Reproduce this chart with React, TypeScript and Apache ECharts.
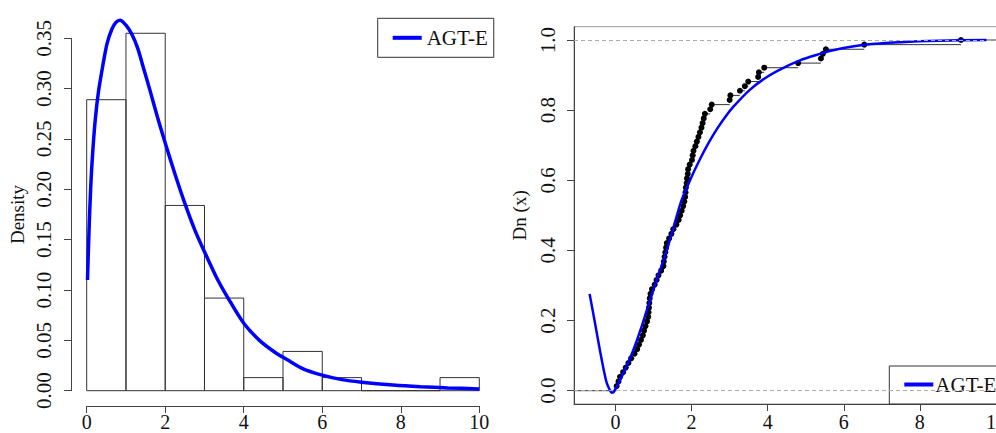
import React, { useEffect, useRef } from "react";
import * as echarts from "echarts";

// ---------- Left panel: histogram + fitted density ----------
const binEdges = [0, 1, 2, 3, 4, 5, 6, 7, 8, 9, 10];
const binDensity = [0.289, 0.355, 0.184, 0.092, 0.013, 0.039, 0.013, 0, 0, 0.013];
const densityX = [0.02, 0.06, 0.1, 0.15, 0.22, 0.3, 0.42, 0.52, 0.64, 0.75, 0.85, 1.0, 1.15, 1.3, 1.45, 1.6, 1.8, 2.0, 2.25, 2.5, 2.75, 3.0, 3.3, 3.6, 4.0, 4.4, 4.8, 5.1, 5.5, 5.95, 6.5, 7.0, 7.8, 8.5, 9.2, 10.0];
const densityY = [0.11, 0.16, 0.2, 0.235, 0.27, 0.297, 0.325, 0.345, 0.359, 0.366, 0.368, 0.363, 0.354, 0.34, 0.32, 0.3, 0.272, 0.246, 0.215, 0.186, 0.16, 0.138, 0.113, 0.092, 0.067, 0.05, 0.038, 0.031, 0.022, 0.016, 0.011, 0.0085, 0.0057, 0.004, 0.0028, 0.0018];
const leftXTicks = [0, 2, 4, 6, 8, 10];

// ---------- Right panel: empirical CDF + fitted CDF ----------
const sampleSorted = [
  0.03, 0.08, 0.12, 0.2, 0.27, 0.34, 0.41, 0.5, 0.57, 0.62,
  0.67, 0.72, 0.75, 0.79, 0.83, 0.86, 0.87, 0.88, 0.89, 0.9,
  0.92, 0.96, 1.03, 1.08, 1.13, 1.2, 1.26, 1.27, 1.29, 1.31,
  1.33, 1.35, 1.41, 1.47, 1.52, 1.6, 1.66, 1.7, 1.74, 1.78,
  1.81, 1.83, 1.84, 1.85, 1.87, 1.88, 1.9, 1.91, 1.95, 2.01,
  2.03, 2.05, 2.1, 2.14, 2.18, 2.22, 2.26, 2.29, 2.32, 2.35,
  2.49, 2.53, 3.0, 3.02, 3.27, 3.4, 3.49, 3.75, 3.77, 3.91,
  4.8, 5.4, 5.45, 5.53, 6.54, 9.08,
];
const cdfX = [-0.68, -0.55, -0.41, -0.3, -0.23, -0.15, -0.1, -0.05, 0.03, 0.25, 0.47, 0.7, 0.91, 1.13, 1.35, 1.55, 1.74, 2.0, 2.22, 2.44, 2.66, 2.88, 3.1, 3.53, 3.97, 4.4, 4.85, 5.3, 5.72, 6.6, 7.5, 8.5, 9.75];
const cdfY = [0.276, 0.2, 0.116, 0.055, 0.022, 0.002, -0.006, -0.004, 0.011, 0.06, 0.116, 0.187, 0.259, 0.33, 0.401, 0.475, 0.544, 0.61, 0.66, 0.705, 0.745, 0.78, 0.81, 0.858, 0.894, 0.92, 0.942, 0.958, 0.971, 0.987, 0.994, 0.998, 1.0];
const rightXTicks = [0, 2, 4, 6, 8, 10];
const rightYTicks = [0, 0.2, 0.4, 0.6, 0.8, 1.0];
const rightXMin = -1.09;
const rightXMax = 10.9;

const FONT = "'Liberation Serif', 'DejaVu Serif', serif";
const TXT = "#111";
const AX = "#444";

export default function App() {
  const ref = useRef<HTMLDivElement>(null);

  useEffect(() => {
    document.body.style.margin = "0";
    if (!ref.current) return;
    const chart = echarts.init(ref.current, null, { renderer: "svg" });

    const histData = binDensity.map((d, i) => [binEdges[i], binEdges[i + 1], d]);
    const densData = densityX.map((x, i) => [x, densityY[i]]);
    const n = sampleSorted.length;
    const ecdfPts = sampleSorted.map((x, i) => [x, (i + 1) / n]);
    const segs: number[][] = [[rightXMin, sampleSorted[0], 0]];
    for (let i = 0; i < n; i++) {
      const next = i < n - 1 ? sampleSorted[i + 1] : rightXMax;
      segs.push([sampleSorted[i], next, (i + 1) / n]);
    }
    const cdfData = cdfX.map((x, i) => [x, cdfY[i]]);

    const yLabelStyle = { fontFamily: FONT, fontSize: 21, color: TXT };
    const xLabelStyle = { fontFamily: FONT, fontSize: 20, color: TXT };

    chart.setOption({
      animation: false,
      backgroundColor: "#fff",
      grid: [
        { left: 86.7, top: 38.3, width: 392.6, height: 352.4, outerBoundsMode: "none", containLabel: false },
        {
          left: 574, top: 26.7, width: 456.2, height: 377.3, outerBoundsMode: "none", containLabel: false,
          show: true, borderColor: "#999", borderWidth: 1, backgroundColor: "transparent",
        },
      ],
      legend: [
        {
          data: ["AGT-E"], left: 377.7, top: 18.3, padding: [9, 6, 9, 15],
          itemWidth: 29, itemHeight: 4, icon: "rect", itemGap: 0,
          borderColor: "#333", borderWidth: 1, backgroundColor: "#fff", selectedMode: false,
          textStyle: { fontFamily: FONT, fontSize: 21, color: TXT },
        },
        {
          data: ["AGT-E"], left: 889.3, top: 366, padding: [8, 6, 9, 15],
          itemWidth: 29, itemHeight: 4, icon: "rect", itemGap: 0,
          borderColor: "#333", borderWidth: 1, backgroundColor: "#fff", selectedMode: false,
          textStyle: { fontFamily: FONT, fontSize: 21, color: TXT, padding: [0, 0, 0, -3] },
        },
      ],
      xAxis: [
        {
          type: "value", gridIndex: 0, min: 0, max: 10, interval: 2, offset: 15.3,
          axisLine: { show: true, onZero: false, lineStyle: { color: AX, width: 1 } },
          axisTick: { show: true, length: 7, lineStyle: { color: AX } },
          axisLabel: { ...xLabelStyle, margin: 6, customValues: leftXTicks },
          splitLine: { show: false },
        },
        {
          type: "value", gridIndex: 1, min: rightXMin, max: rightXMax,
          axisLine: { show: true, onZero: false, lineStyle: { color: AX, width: 1 } },
          axisTick: { show: true, length: 7, customValues: rightXTicks, lineStyle: { color: AX } },
          axisLabel: { ...xLabelStyle, margin: 8, customValues: rightXTicks },
          splitLine: { show: false },
        },
      ],
      yAxis: [
        {
          type: "value", gridIndex: 0, min: 0, max: 0.35, interval: 0.05, offset: 15.7,
          axisLine: { show: true, onZero: false, lineStyle: { color: AX, width: 1 } },
          axisTick: { show: true, length: 7, lineStyle: { color: AX } },
          axisLabel: { ...yLabelStyle, margin: 17, rotate: 90, formatter: (v: number) => v.toFixed(2) },
          splitLine: { show: false },
          name: "Density", nameLocation: "middle", nameGap: 44, nameRotate: 90,
          nameTextStyle: { fontFamily: FONT, fontSize: 19, color: TXT },
        },
        {
          type: "value", gridIndex: 1, min: -0.038, max: 1.038,
          axisLine: { show: true, onZero: false, lineStyle: { color: AX, width: 1 } },
          axisTick: { show: true, length: 7, customValues: rightYTicks, lineStyle: { color: AX } },
          axisLabel: {
            ...yLabelStyle, margin: 16, rotate: 90, customValues: rightYTicks,
            formatter: (v: number) => v.toFixed(1),
          },
          splitLine: { show: false },
          name: "Dn (x)", nameLocation: "middle", nameGap: 45.5, nameRotate: 90,
          nameTextStyle: { fontFamily: FONT, fontSize: 19, color: TXT },
        },
      ],
      series: [
        {
          type: "custom", name: "hist", xAxisIndex: 0, yAxisIndex: 0,
          data: histData, encode: { x: [0, 1], y: 2 }, silent: true,
          renderItem: (_p: any, api: any) => {
            const a = api.coord([api.value(0), api.value(2)]);
            const b = api.coord([api.value(1), 0]);
            return {
              type: "rect",
              shape: { x: a[0], y: a[1], width: b[0] - a[0], height: b[1] - a[1] },
              style: { fill: "none", stroke: "#333", lineWidth: 1 },
            };
          },
        },
        {
          type: "line", name: "AGT-E", xAxisIndex: 0, yAxisIndex: 0,
          data: densData, symbol: "none", smooth: 0.3, clip: false,
          lineStyle: { color: "#0000ff", width: 3.5 }, itemStyle: { color: "#0000ff" },
        },
        {
          type: "custom", name: "steps", xAxisIndex: 1, yAxisIndex: 1,
          data: segs, encode: { x: [0, 1], y: 2 }, silent: true,
          renderItem: (_p: any, api: any) => {
            const a = api.coord([api.value(0), api.value(2)]);
            const b = api.coord([api.value(1), api.value(2)]);
            return {
              type: "line",
              shape: { x1: a[0], y1: a[1], x2: b[0], y2: b[1] },
              style: { stroke: "#333", lineWidth: 1 },
            };
          },
        },
        {
          type: "scatter", name: "ecdf", xAxisIndex: 1, yAxisIndex: 1,
          data: ecdfPts, symbol: "circle", symbolSize: 6, silent: true,
          itemStyle: { color: "#000", opacity: 1 },
          markLine: {
            silent: true, symbol: "none", label: { show: false },
            lineStyle: { type: [4, 3], color: "#aaa", width: 1 },
            data: [{ yAxis: 0 }, { yAxis: 1 }],
          },
        },
        {
          type: "line", name: "AGT-E", xAxisIndex: 1, yAxisIndex: 1,
          data: cdfData, symbol: "none", smooth: 0.3,
          lineStyle: { color: "#0000ff", width: 2.5 }, itemStyle: { color: "#0000ff" },
        },
      ],
    });

    return () => chart.dispose();
  }, []);

  return (
    <div
      ref={ref}
      style={{ position: "absolute", left: 0, top: 0, width: 996, height: 433 }}
    />
  );
}
